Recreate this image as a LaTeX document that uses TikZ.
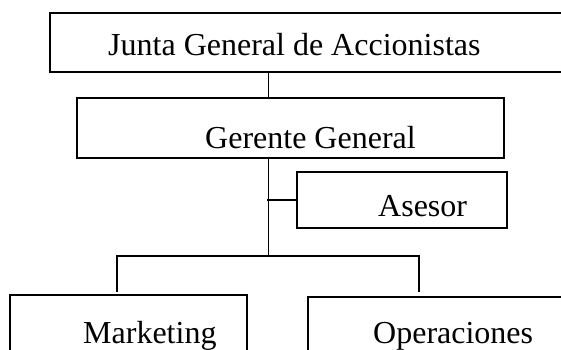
\documentclass[tikz,border=0pt]{standalone}
\usepackage{fontspec}
\setmainfont{Liberation Serif}
\begin{document}
\begin{tikzpicture}[x=1pt,y=-1pt,
  orgbox/.style={draw, line width=1.5pt, inner sep=0pt, outer sep=0pt, anchor=north west},
  lbl/.style={anchor=base west, inner sep=0pt, font=\fontsize{32}{38}\selectfont},
  wire/.style={line width=1.1pt}]
  \useasboundingbox (0,0) rectangle (561,349);
  \clip (0,0) rectangle (561,349);

  % boxes
  \node[orgbox, minimum width=525pt, minimum height=59pt] (junta) at (50,13) {};
  \node[orgbox, minimum width=427pt, minimum height=60pt] (gerente) at (77,98) {};
  \node[orgbox, minimum width=210pt, minimum height=56pt] (asesor) at (297,172) {};
  \node[orgbox, minimum width=237pt, minimum height=80pt] (marketing) at (10,295) {};
  \node[orgbox, minimum width=267pt, minimum height=80pt] (operaciones) at (308,297) {};

  % labels
  \node[lbl] (tjunta) at (108,55) {Junta General de Accionistas};
  \node[lbl] (tgerente) at (205,148) {Gerente General};
  \node[lbl] (tasesor) at (378,216) {Asesor};
  \node[lbl] (tmarketing) at (83,343) {Marketing};
  \node[lbl] (toperaciones) at (373,343) {Operaciones};

  % connectors
  \coordinate (trunk) at (268.5,0);
  \coordinate (bar) at (268.5,256);
  \coordinate (barL) at (117,256);
  \coordinate (barR) at (419,256);
  \coordinate (dropL) at (117,292);
  \coordinate (dropR) at (419,292);

  \draw[wire] (junta.south -| trunk) -- (gerente.north -| trunk);
  \draw[wire] (gerente.south -| trunk) -- (bar);
  \draw[wire] ([xshift=-2pt]trunk |- asesor.west) -- (asesor.west);
  \draw[wire] (dropL) -- (barL) -- (barR) -- (dropR);
\end{tikzpicture}
\end{document}
